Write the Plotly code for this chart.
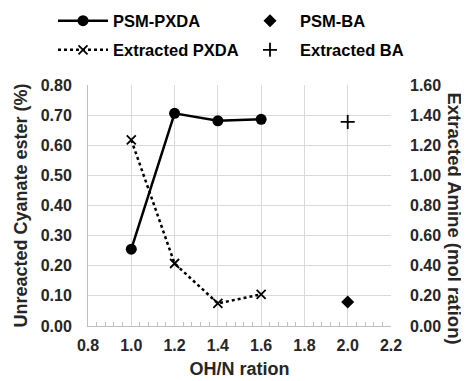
import plotly.graph_objects as go

x_pxda = [1.0, 1.2, 1.4, 1.6]
psm_pxda = [0.255, 0.706, 0.681, 0.686]
extracted_pxda = [1.235, 0.415, 0.15, 0.21]
x_ba = [2.0]
psm_ba = [0.08]
extracted_ba = [1.355]

FONT = "Liberation Sans, Arial, sans-serif"
GRID = "#d9d9d9"
AXIS = "#bfbfbf"

fig = go.Figure()
fig.add_trace(go.Scatter(
    x=x_pxda, y=psm_pxda, name="PSM-PXDA", mode="lines+markers",
    line=dict(color="black", width=2.5),
    marker=dict(symbol="circle", size=11, color="black"),
    legend="legend"))
fig.add_trace(go.Scatter(
    x=x_ba, y=psm_ba, name="PSM-BA", mode="markers",
    marker=dict(symbol="diamond", size=10, color="black"),
    legend="legend2"))
fig.add_trace(go.Scatter(
    x=x_pxda, y=extracted_pxda, name="Extracted PXDA", mode="lines+markers",
    line=dict(color="black", width=2.5, dash="dot"),
    marker=dict(symbol="x-thin", size=9, color="black",
                line=dict(color="black", width=1.8)),
    yaxis="y2", legend="legend3"))
fig.add_trace(go.Scatter(
    x=x_ba, y=extracted_ba, name="Extracted BA", mode="markers",
    marker=dict(symbol="cross-thin", size=10, color="black",
                line=dict(color="black", width=1.8)),
    yaxis="y2", legend="legend4"))

tickfont = dict(family=FONT, size=16, color="#262626", weight="bold")
titlefont = dict(family=FONT, size=18, color="#262626", weight="bold")
legfont = dict(family=FONT, size=16.5, color="black", weight="bold")

def leg(x, y):
    return dict(orientation="h", x=x, y=y, xanchor="left", yanchor="middle",
                font=legfont, itemwidth=50, bgcolor="rgba(0,0,0,0)", borderwidth=0)

row1, row2 = 1.2656, 1.145
col1, col2 = -0.1155, 0.5017

# The page places the figure 8px in from the top-left corner.
fig.update_layout(
    width=461, height=373,
    showlegend=True,
    margin=dict(l=80, r=78, t=77, b=55, autoexpand=False),
    paper_bgcolor="white", plot_bgcolor="white",
    font=dict(family=FONT, color="#262626"),
    xaxis=dict(
        range=[0.8, 2.2], dtick=0.2, tick0=0.8, tickformat=".1f",
        showgrid=True, gridcolor=GRID, gridwidth=1,
        showline=True, linecolor=AXIS, linewidth=1,
        ticks="", tickfont=tickfont, ticklabelstandoff=5,
        minor=dict(dtick=0.04, ticks="inside", ticklen=4, tickcolor=AXIS, showgrid=False),
        title=dict(text="OH/N ration", font=titlefont, standoff=9),
        zeroline=False,
    ),
    yaxis=dict(
        range=[0, 0.8], dtick=0.1, tickformat=".2f",
        showgrid=True, gridcolor=GRID, gridwidth=1,
        showline=True, linecolor=AXIS, linewidth=1,
        ticks="", tickfont=tickfont, ticklabelstandoff=12,
        title=dict(text="Unreacted Cyanate ester (%)", font=titlefont, standoff=8),
        zeroline=False,
    ),
    yaxis2=dict(
        range=[0, 1.6], dtick=0.2, tickformat=".2f",
        overlaying="y", side="right", showgrid=False,
        showline=False, ticks="", tickfont=tickfont, ticklabelstandoff=18,
        zeroline=False,
    ),
    annotations=[dict(
        text="Extracted Amine (mol ration)", textangle=90,
        xref="paper", yref="paper", x=1.210, y=0.448,
        xanchor="center", yanchor="middle", showarrow=False,
        font=dict(family=FONT, size=18.5, color="#262626", weight="bold"),
    )],
    legend=leg(col1, row1),
    legend2=leg(col2, row1),
    legend3=leg(col1, row2),
    legend4=leg(col2, row2),
)

fig.write_html("out.html")
